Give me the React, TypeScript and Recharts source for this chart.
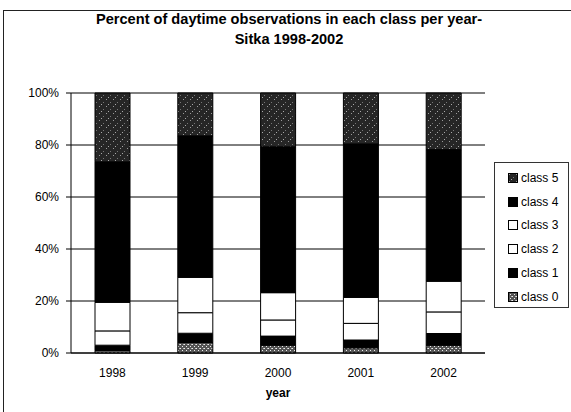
import React from "react";
import { BarChart, Bar, XAxis, YAxis, CartesianGrid } from "recharts";

// years along the x axis
const years = ["1998", "1999", "2000", "2001", "2002"];

const class0 = [1, 4, 3, 2, 3];
const class1 = [2, 3.6, 3.5, 3, 4.5];
const class2 = [5.5, 7.9, 6.2, 6.4, 8.3];
const class3 = [11, 13.6, 10.5, 10, 11.8];
const class4 = [54, 54.4, 56.1, 59, 50.6];
const class5 = [26.5, 16.5, 20.7, 19.6, 21.8];

const yTicks = [0, 20, 40, 60, 80, 100];

const seriesNames = ["class 0", "class 1", "class 2", "class 3", "class 4", "class 5"];
const seriesFills = [
  "url(#stippleLight)",
  "#000000",
  "#ffffff",
  "#ffffff",
  "#000000",
  "url(#stippleDark)",
];
const seriesValues = [class0, class1, class2, class3, class4, class5];

const data = years.map((year, i) => {
  const row: Record<string, string | number> = { year };
  seriesValues.forEach((vals, s) => {
    row["c" + s] = vals[i];
  });
  return row;
});

const FONT = "Arial, 'Liberation Sans', Helvetica, sans-serif";

function Swatch({ fill }: { fill: string }) {
  return (
    <svg width={10} height={10} style={{ display: "block" }}>
      <rect x={0.5} y={0.5} width={9} height={9} fill={fill} stroke="#000" strokeWidth={1} />
    </svg>
  );
}

export default function App() {
  return (
    <div
      style={{
        position: "absolute",
        left: 0,
        top: 0,
        width: 571,
        height: 412,
        background: "#fff",
        fontFamily: FONT,
        overflow: "hidden",
      }}
    >
      {/* patterns shared by bars and legend */}
      <svg width={0} height={0} style={{ position: "absolute" }}>
        <defs>
          <pattern id="stippleDark" width={7} height={7} patternUnits="userSpaceOnUse">
            <rect width={7} height={7} fill="#262626" />
            <rect x={1} y={1} width={1} height={1} fill="#9a9a9a" />
            <rect x={5} y={4} width={1} height={1} fill="#777" />
            <rect x={3} y={6} width={1} height={1} fill="#aaa" />
          </pattern>
          <pattern id="stippleLight" width={4} height={4} patternUnits="userSpaceOnUse">
            <rect width={4} height={4} fill="#555" />
            <rect x={0} y={0} width={1} height={1} fill="#eee" />
            <rect x={2} y={2} width={1} height={1} fill="#eee" />
            <rect x={3} y={0} width={1} height={1} fill="#bbb" />
          </pattern>
        </defs>
      </svg>

      {/* outer chart frame */}
      <div
        style={{
          position: "absolute",
          left: 3,
          top: 10,
          width: 580,
          height: 420,
          borderLeft: "1px solid #222",
          borderTop: "1px solid #222",
        }}
      />

      <div
        style={{
          position: "absolute",
          left: 0,
          top: 9,
          width: 578,
          textAlign: "center",
          fontWeight: "bold",
          fontSize: 14.6,
          lineHeight: "20px",
          color: "#000",
        }}
      >
        Percent of daytime observations in each class per year-
        <br />
        Sitka 1998-2002
      </div>

      <div style={{ position: "absolute", left: 0, top: 0 }}>
        <BarChart
          width={571}
          height={412}
          data={data}
          margin={{ top: 93, right: 86, bottom: 29, left: 21 }}
          barSize={35}
        >
          <CartesianGrid vertical={false} stroke="#000" strokeWidth={1} yAxisId="l" />
          <XAxis
            dataKey="year"
            stroke="#000"
            tickLine={false}
            tickSize={6}
            tickMargin={9}
            height={30}
            tick={{ fill: "#000", fontSize: 12, fontFamily: FONT }}
            label={{
              value: "year",
              position: "bottom",
              offset: 5,
              fill: "#000",
              fontSize: 12,
              fontWeight: "bold",
              fontFamily: FONT,
            }}
          />
          <YAxis
            yAxisId="l"
            width={50}
            domain={[0, 100]}
            ticks={yTicks}
            tickFormatter={(v: number) => v + "%"}
            stroke="#000"
            tickSize={5}
            tickMargin={7}
            tick={{ fill: "#000", fontSize: 12, fontFamily: FONT }}
          />
          <YAxis
            yAxisId="r"
            orientation="right"
            width={0}
            domain={[0, 100]}
            tick={false}
            tickLine={false}
            stroke="#000"
          />
          {seriesNames.map((name, s) => (
            <Bar
              key={name}
              yAxisId="l"
              dataKey={"c" + s}
              name={name}
              stackId="a"
              fill={seriesFills[s]}
              stroke="#000"
              strokeWidth={1}
              isAnimationActive={false}
            />
          ))}
        </BarChart>
      </div>

      {/* legend */}
      <div
        style={{
          position: "absolute",
          left: 494,
          top: 162,
          width: 75,
          height: 146,
          border: "1px solid #333",
          boxSizing: "border-box",
          paddingTop: 3,
        }}
      >
        {seriesNames
          .map((name, s) => ({ name, fill: seriesFills[s] }))
          .reverse()
          .map((item) => (
            <div
              key={item.name}
              style={{
                display: "flex",
                alignItems: "center",
                height: 23.8,
                paddingLeft: 13,
                gap: 3,
                fontSize: 12,
                color: "#000",
              }}
            >
              <Swatch fill={item.fill} />
              <span>{item.name}</span>
            </div>
          ))}
      </div>
    </div>
  );
}
